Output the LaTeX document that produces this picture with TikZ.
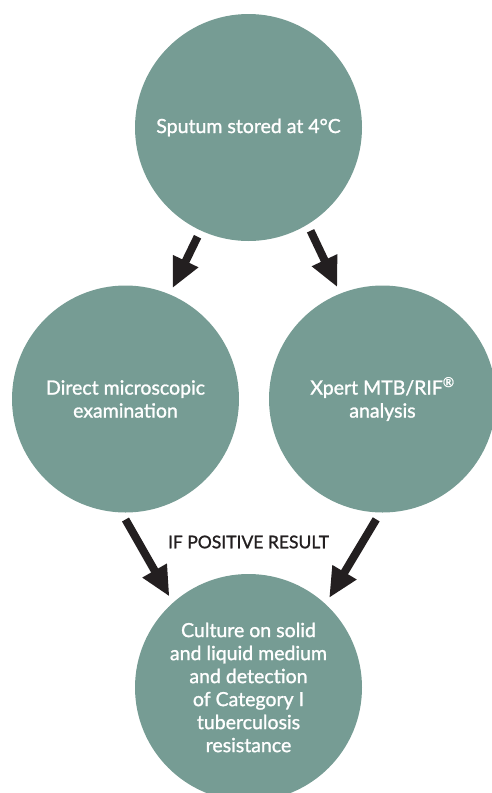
\documentclass[tikz,border=0pt]{standalone}
\usepackage{fontspec}
\setmainfont{Lato}
\newfontfamily\stagefont{Lato}[FakeBold=1.3]
\usepackage{tikz}
\usetikzlibrary{positioning}
\usetikzlibrary{arrows.meta}
\usetikzlibrary{calc}
\definecolor{sage}{HTML}{769C94}
\definecolor{ink}{HTML}{231F20}

\begin{document}
\begin{tikzpicture}[x=1pt, y=-1pt,
  stage/.style={circle, fill=sage, minimum size=227pt, inner sep=0pt, outer sep=7pt,
    text=white, align=center, font=\stagefont\fontsize{19.5}{23}\selectfont},
  flow/.style={ink, line width=8pt, -{Triangle[width=26pt,length=30pt]}}]
\useasboundingbox (0,0) rectangle (492,793);

\node[stage] (stage0) at (248.5,127.5) {Sputum stored at 4°C};
\node[stage] (stage1) at ($(stage0)+(-123,271.5)$) {Direct microscopic\\examination};
\node[stage] (stage2) at ($(stage0)+(134,271.5)$) {Xpert MTB/RIF\textsuperscript{®}\\analysis};
\node[stage] (stage3) at ($(stage0)+(0,560)$) {Culture on solid\\and liquid medium\\and detection\\of Category I\\tuberculosis\\resistance};

\node[ink, font=\stagefont\fontsize{17.5}{20}\selectfont] (cond) at ($(stage3)+(0,-145.5)$) {IF POSITIVE RESULT};

\draw[flow] (stage0.-115.6) -- (stage1.67.9);
\draw[flow] (stage0.-59.4) -- (stage2.112.3);
\draw[flow] (stage1.-90) -- (stage3.131.2);
\draw[flow] (stage2.-93.5) -- (stage3.48.1);
\end{tikzpicture}
\end{document}
